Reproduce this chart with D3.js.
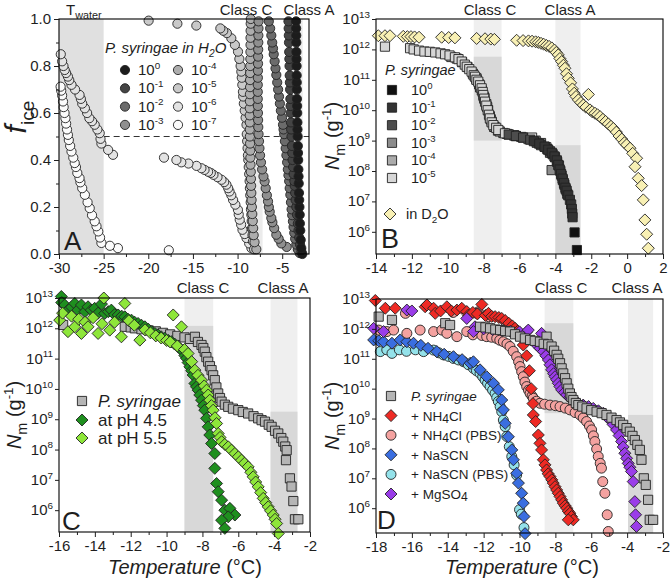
<!DOCTYPE html>
<html><head><meta charset="utf-8">
<script src="https://cdn.jsdelivr.net/npm/d3@7"></script>
<style>body{margin:0;background:#fff;}svg{display:block;font-family:"Liberation Sans",Arial,sans-serif;}</style>
</head><body>
<script>
// ---------------- DATA ----------------
// Panel A: [temperature °C, f_ice]
const A_e0 = [[-2.75,0.0],[-2.86,0.025],[-2.93,0.06],[-2.98,0.1],[-3.02,0.13],[-3.04,0.167],[-3.07,0.2],[-3.1,0.23],[-3.12,0.26],[-3.15,0.3],[-3.17,0.33],[-3.19,0.36],[-3.21,0.4],[-3.23,0.43],[-3.25,0.46],[-3.27,0.5],[-3.29,0.53],[-3.3,0.56],[-3.32,0.6],[-3.33,0.63],[-3.35,0.66],[-3.36,0.7],[-3.37,0.73],[-3.38,0.76],[-3.39,0.8],[-3.4,0.83],[-3.41,0.86],[-3.42,0.9],[-3.43,0.93],[-3.44,0.96],[-3.45,0.99]];
const A_e1 = [[-2.85,0.01],[-3.0,0.04],[-3.1,0.07],[-3.18,0.1],[-3.25,0.13],[-3.34,0.167],[-3.42,0.2],[-3.5,0.23],[-3.55,0.26],[-3.6,0.29],[-3.64,0.31],[-3.72,0.34],[-3.78,0.37],[-3.84,0.4],[-3.88,0.43],[-3.92,0.46],[-3.96,0.5],[-4.0,0.53],[-4.02,0.56],[-4.05,0.6],[-4.07,0.63],[-4.09,0.66],[-4.12,0.7],[-4.14,0.73],[-4.16,0.76],[-4.18,0.8],[-4.2,0.83],[-4.22,0.86],[-4.24,0.9],[-4.26,0.93],[-4.28,0.96],[-4.3,0.99]];
const A_e2 = [[-3.04,0.004],[-3.25,0.02],[-3.42,0.04],[-3.55,0.065],[-3.65,0.09],[-3.73,0.115],[-3.8,0.139],[-3.88,0.165],[-3.95,0.19],[-4.02,0.22],[-4.09,0.252],[-4.16,0.28],[-4.22,0.31],[-4.3,0.335],[-4.37,0.36],[-4.45,0.39],[-4.53,0.42],[-4.61,0.45],[-4.7,0.48],[-4.78,0.51],[-4.85,0.53],[-4.91,0.55],[-5.02,0.58],[-5.15,0.61],[-5.26,0.64],[-5.36,0.67],[-5.46,0.7],[-5.56,0.73],[-5.66,0.762],[-5.75,0.79],[-5.85,0.82],[-5.95,0.85],[-6.03,0.875],[-6.12,0.9],[-6.22,0.93],[-6.35,0.96],[-6.5,0.99]];
const A_e3 = [[-4.5,0.03],[-5.1,0.045],[-5.4,0.065],[-5.66,0.082],[-5.9,0.11],[-6.1,0.135],[-6.22,0.153],[-6.4,0.18],[-6.5,0.2],[-6.59,0.224],[-6.72,0.25],[-6.85,0.28],[-6.97,0.309],[-7.1,0.33],[-7.25,0.36],[-7.38,0.39],[-7.48,0.42],[-7.55,0.45],[-7.6,0.48],[-7.65,0.51],[-7.68,0.54],[-7.7,0.57],[-7.72,0.6],[-7.73,0.63],[-7.74,0.66],[-7.74,0.69],[-7.74,0.72],[-7.73,0.75],[-7.72,0.78],[-7.71,0.81],[-7.7,0.84],[-7.69,0.87],[-7.68,0.9],[-7.67,0.93],[-7.66,0.96],[-7.65,0.99]];
const A_e4 = [[-7.9,0.02],[-8.1,0.05],[-8.2,0.08],[-8.25,0.11],[-8.3,0.14],[-8.35,0.17],[-8.4,0.2],[-8.43,0.23],[-8.46,0.26],[-8.48,0.29],[-8.5,0.32],[-8.52,0.35],[-8.55,0.38],[-8.57,0.41],[-8.58,0.44],[-8.6,0.47],[-8.62,0.5],[-8.63,0.53],[-8.63,0.56],[-8.64,0.59],[-8.63,0.62],[-8.62,0.65],[-8.62,0.68],[-8.6,0.71],[-8.6,0.74],[-8.59,0.77],[-8.58,0.8],[-8.57,0.83],[-8.56,0.86],[-8.55,0.89],[-8.55,0.92],[-8.54,0.95],[-8.53,0.98],[-8.52,1.0]];
const A_e5 = [[-8.15,0.02],[-8.28,0.054],[-8.33,0.08],[-8.38,0.11],[-8.42,0.14],[-8.46,0.167],[-8.5,0.19],[-8.53,0.22],[-8.58,0.25],[-8.62,0.28],[-8.65,0.31],[-8.7,0.34],[-8.75,0.37],[-8.8,0.4],[-8.84,0.42],[-8.88,0.45],[-8.93,0.48],[-8.97,0.51],[-9.0,0.55],[-9.1,0.58],[-9.2,0.61],[-9.3,0.64],[-9.37,0.67],[-9.4,0.69],[-9.47,0.72],[-9.53,0.75],[-9.58,0.776],[-9.66,0.8],[-9.8,0.83],[-9.95,0.861],[-10.3,0.89],[-10.7,0.918],[-11.2,0.94],[-11.6,0.95],[-11.93,0.96],[-14.62,0.972],[-16.74,0.98],[-19.96,0.993]];
const A_e6 = [[-8.45,0.025],[-8.7,0.045],[-9.0,0.068],[-9.2,0.085],[-9.45,0.103],[-9.6,0.125],[-9.76,0.146],[-9.87,0.168],[-9.96,0.188],[-10.25,0.21],[-10.5,0.23],[-10.7,0.25],[-10.9,0.266],[-11.05,0.28],[-11.25,0.295],[-11.5,0.306],[-11.8,0.316],[-12.25,0.327],[-12.7,0.337],[-13.0,0.345],[-13.3,0.35],[-13.7,0.358],[-14.05,0.365],[-14.6,0.375],[-15.5,0.385],[-16.3,0.39],[-16.85,0.4],[-18.24,0.41],[-23.95,0.422],[-24.5,0.443],[-25.25,0.47],[-25.35,0.49],[-25.44,0.514],[-25.7,0.53],[-26.0,0.55],[-26.3,0.565],[-26.6,0.578],[-26.85,0.6],[-27.1,0.62],[-27.4,0.64],[-27.55,0.66],[-27.7,0.677],[-28.2,0.7],[-28.6,0.72],[-28.85,0.74],[-29.0,0.755],[-29.2,0.77],[-29.36,0.783],[-29.5,0.8],[-29.65,0.82],[-29.8,0.85]];
const A_e7 = [[-17.7,0.016],[-23.4,0.025],[-24.3,0.035],[-25.25,0.047],[-25.4,0.07],[-25.6,0.096],[-25.8,0.118],[-26.0,0.139],[-26.3,0.165],[-26.56,0.195],[-26.8,0.22],[-27.1,0.252],[-27.4,0.28],[-27.6,0.305],[-27.7,0.323],[-27.95,0.345],[-28.1,0.37],[-28.24,0.387],[-28.4,0.41],[-28.6,0.436],[-28.75,0.46],[-28.9,0.485],[-29.0,0.507],[-29.1,0.53],[-29.2,0.555],[-29.28,0.578],[-29.38,0.6],[-29.48,0.625],[-29.55,0.649],[-29.65,0.675],[-29.75,0.695],[-29.82,0.712]];

// Panel B: [temperature °C, log10 Nm]
const B_e0 = [[-2.93,5.98],[-2.8,5.4]];
const B_e1 = [[-5.2,8.98],[-4.9,8.9],[-4.6,8.8],[-4.4,8.7],[-4.2,8.6],[-4.05,8.48],[-3.92,8.35],[-3.84,8.2],[-3.76,8.05],[-3.68,7.9],[-3.6,7.75],[-3.52,7.6],[-3.44,7.45],[-3.37,7.35],[-3.28,7.2],[-3.19,7.05],[-3.12,6.9],[-3.08,6.75],[-3.06,6.6],[-3.04,6.48]];
const B_e2 = [[-6.6,9.2],[-6.2,9.15],[-5.8,9.1],[-5.4,9.03],[-5.04,8.93],[-4.8,8.85],[-4.6,8.8],[-4.45,8.72],[-4.3,8.65],[-4.15,8.55],[-4.02,8.45],[-3.9,8.3],[-3.8,8.18],[-3.72,8.0],[-3.65,7.85],[-3.58,7.7],[-3.5,7.55],[-3.42,7.4],[-3.34,7.25]];
const B_e3 = [[-8.4,11.05],[-8.2,10.75],[-8.0,10.45],[-7.8,10.1],[-7.6,9.7],[-7.4,9.45],[-7.1,9.3],[-6.7,9.22],[-6.3,9.17],[-5.9,9.12],[-5.5,9.05],[-5.1,9.0],[-4.8,8.92],[-4.5,8.78],[-4.3,8.6],[-4.21,8.03]];
const B_e4 = [[-9.8,11.75],[-9.5,11.7],[-9.2,11.58],[-8.9,11.42],[-8.6,11.2],[-8.4,11.02],[-8.25,10.85],[-8.1,10.65],[-7.95,10.4],[-7.85,10.2],[-7.75,10.0],[-7.65,9.8],[-7.55,9.62],[-7.4,9.45],[-7.2,9.33],[-6.9,9.25],[-6.6,9.2],[-6.2,9.15],[-5.8,9.1]];
const B_e5 = [[-13.5,12.09],[-12.1,12.04],[-11.9,12.0],[-11.6,11.96],[-11.3,11.93],[-11.0,11.92],[-10.7,11.9],[-10.4,11.87],[-10.15,11.84],[-9.9,11.8],[-9.6,11.74],[-9.4,11.68],[-9.22,11.6],[-9.05,11.5],[-8.94,11.43],[-8.8,11.35],[-8.67,11.27],[-8.55,11.15],[-8.48,11.1],[-8.4,11.0],[-8.3,10.94],[-8.2,10.82],[-8.11,10.72],[-8.05,10.6],[-8.02,10.5],[-7.97,10.38],[-7.92,10.28],[-7.85,10.15],[-7.77,10.0],[-7.7,9.85],[-7.65,9.73],[-7.55,9.6],[-7.46,9.51],[-7.3,9.42],[-7.18,9.35],[-6.81,9.24],[-6.3,9.18],[-5.3,9.1]];
const B_D2O = [[-13.87,12.45],[-13.5,12.45],[-13.22,12.45],[-12.48,12.43],[-12.25,12.42],[-12.05,12.42],[-11.85,12.41],[-11.6,12.4],[-10.34,12.4],[-9.95,12.39],[-9.6,12.38],[-8.39,12.36],[-7.92,12.35],[-7.6,12.34],[-7.4,12.33],[-6.16,12.3],[-5.8,12.29],[-5.5,12.28],[-5.3,12.27],[-5.1,12.25],[-4.95,12.23],[-4.8,12.2],[-4.65,12.17],[-4.5,12.13],[-4.35,12.1],[-4.2,12.05],[-4.05,11.98],[-3.95,11.9],[-3.84,11.82],[-3.75,11.7],[-3.65,11.6],[-3.55,11.48],[-3.47,11.38],[-3.38,11.2],[-3.28,11.05],[-3.15,10.9],[-3.05,10.7],[-2.95,10.56],[-2.85,10.45],[-2.72,10.34],[-2.58,10.25],[-2.44,10.17],[-2.3,10.1],[-2.16,10.52],[-2.07,10.01],[-1.95,9.95],[-1.79,9.9],[-1.65,9.85],[-1.51,9.79],[-1.35,9.7],[-1.2,9.63],[-1.05,9.55],[-0.9,9.47],[-0.77,9.4],[-0.6,9.28],[-0.45,9.15],[-0.3,9.05],[-0.15,8.93],[-0.03,8.86],[0.16,8.75],[0.31,8.58],[0.53,8.42],[0.44,8.14],[0.62,7.76],[0.81,7.52],[0.9,7.05],[0.99,6.39],[1.09,5.92],[1.18,5.46]];

// Panel C: [temperature °C, log10 Nm]
const C_ps = [[-15.77,12.11],[-12.33,12.05],[-12.0,12.03],[-11.77,12.0],[-11.4,11.97],[-11.0,11.93],[-10.6,11.9],[-10.2,11.85],[-9.8,11.8],[-9.4,11.75],[-9.0,11.7],[-8.7,11.65],[-8.42,11.72],[-8.25,11.55],[-8.05,11.45],[-7.95,11.35],[-7.87,11.23],[-7.78,11.05],[-7.68,10.9],[-7.58,10.75],[-7.49,10.62],[-7.4,10.45],[-7.31,10.29],[-7.22,10.05],[-7.12,9.85],[-7.02,9.7],[-6.93,9.58],[-6.75,9.48],[-6.56,9.41],[-6.3,9.35],[-6.0,9.3],[-5.75,9.24],[-5.45,9.19],[-5.15,9.1],[-4.89,9.03],[-4.7,8.97],[-4.51,8.92],[-4.3,8.82],[-4.14,8.75],[-3.95,8.62],[-3.77,8.53],[-3.6,8.38],[-3.49,8.26],[-3.38,8.1],[-3.3,7.98],[-3.34,7.65],[-3.12,7.05],[-3.03,6.78],[-2.93,6.3],[-2.84,5.7],[-2.65,5.7]];
const C_pH45 = [[-15.87,13.05],[-15.85,12.85],[-15.68,12.77],[-15.5,12.6],[-15.3,12.7],[-15.12,12.82],[-14.95,12.6],[-14.75,12.77],[-14.55,12.55],[-14.38,12.71],[-14.2,12.6],[-14.01,12.66],[-13.82,12.5],[-13.63,12.8],[-13.45,12.49],[-13.25,12.55],[-13.08,12.6],[-12.9,12.45],[-12.7,12.44],[-12.5,12.4],[-12.33,12.38],[-12.15,12.3],[-11.96,12.27],[-11.78,12.2],[-11.59,12.16],[-11.4,12.1],[-11.21,12.05],[-11.02,11.97],[-10.84,11.89],[-10.65,11.83],[-10.47,11.78],[-10.3,11.72],[-10.1,11.67],[-9.9,11.6],[-9.73,11.56],[-9.55,11.48],[-9.35,11.39],[-9.2,11.3],[-9.07,11.23],[-8.98,11.1],[-8.89,11.01],[-8.8,10.87],[-8.7,10.73],[-8.6,10.6],[-8.52,10.46],[-8.42,10.18],[-8.33,10.07],[-8.24,9.96],[-8.15,9.8],[-8.05,9.63],[-7.95,9.45],[-7.87,9.3],[-7.77,9.03],[-7.68,8.75],[-7.59,8.48],[-7.49,8.2],[-7.31,7.87],[-7.31,7.38],[-7.21,6.88],[-7.12,6.61],[-6.93,6.33],[-6.75,6.0],[-6.47,6.06],[-6.19,5.84],[-6.56,5.78],[-6.93,5.67],[-6.75,5.4]];
const C_pH55 = [[-15.96,12.27],[-15.8,12.5],[-15.5,11.89],[-15.3,12.4],[-15.12,12.05],[-14.9,12.3],[-14.75,11.83],[-14.55,12.2],[-14.38,12.05],[-14.1,12.35],[-13.82,11.83],[-13.6,12.15],[-13.5,13.0],[-13.17,11.94],[-12.9,12.2],[-12.52,11.72],[-12.33,12.82],[-12.1,12.25],[-11.8,12.1],[-11.49,11.61],[-11.2,11.95],[-10.9,11.85],[-10.6,11.75],[-10.3,11.68],[-10.0,11.6],[-9.8,11.55],[-9.63,12.44],[-9.4,11.42],[-9.17,12.05],[-9.0,11.3],[-8.8,11.17],[-8.6,10.9],[-8.42,10.62],[-8.25,10.45],[-8.05,10.29],[-7.9,10.1],[-7.77,9.96],[-7.68,9.8],[-7.59,9.63],[-7.5,9.45],[-7.4,9.3],[-7.3,9.05],[-7.21,8.86],[-7.12,8.53],[-7.02,8.4],[-6.93,8.26],[-6.75,8.17],[-6.56,8.09],[-6.38,7.98],[-6.19,7.87],[-6.0,7.76],[-5.82,7.65],[-5.65,7.55],[-5.45,7.43],[-5.3,7.25],[-5.17,7.1],[-5.03,6.93],[-4.89,6.77],[-4.75,6.58],[-4.61,6.39],[-4.47,6.25],[-4.33,6.11],[-4.2,5.98],[-4.05,5.84],[-3.95,5.7],[-3.86,5.56],[-3.77,5.23]];

// Panel D: [temperature °C, log10 Nm]
const D_ps = [[-17.85,12.41],[-17.11,12.3],[-14.14,12.19],[-13.87,12.13],[-12.2,12.07],[-11.9,12.05],[-11.64,12.02],[-11.35,11.98],[-11.08,11.96],[-10.8,11.93],[-10.53,11.91],[-10.25,11.82],[-9.97,11.74],[-9.7,11.68],[-9.41,11.63],[-9.15,11.6],[-8.86,11.57],[-8.49,11.74],[-8.65,11.5],[-8.4,11.48],[-8.21,11.41],[-8.07,11.27],[-7.93,11.13],[-7.84,11.0],[-7.74,10.85],[-7.65,10.68],[-7.56,10.51],[-7.46,10.35],[-7.37,10.18],[-7.28,10.0],[-7.19,9.84],[-7.1,9.72],[-7.0,9.62],[-6.86,9.52],[-6.72,9.45],[-6.5,9.4],[-6.26,9.34],[-6.0,9.28],[-5.7,9.23],[-5.42,9.18],[-5.15,9.12],[-4.87,9.03],[-4.59,8.95],[-4.4,8.87],[-4.22,8.79],[-4.03,8.68],[-3.85,8.56],[-3.7,8.42],[-3.57,8.28],[-3.43,8.12],[-3.29,7.95],[-3.2,7.62],[-3.07,7.0],[-2.96,6.78],[-2.83,6.28],[-2.74,5.61],[-2.55,5.61]];
const D_NH4Cl = [[-18.04,12.95],[-17.48,12.69],[-16.93,12.69],[-15.26,12.74],[-15.16,12.8],[-14.79,12.69],[-14.7,12.52],[-14.4,12.6],[-14.05,12.74],[-13.8,12.6],[-13.49,12.63],[-13.22,12.69],[-12.94,12.58],[-12.85,12.46],[-12.6,12.55],[-12.35,12.5],[-12.1,12.82],[-11.9,12.45],[-11.73,12.52],[-11.55,12.42],[-11.36,12.41],[-11.15,12.38],[-10.99,12.35],[-10.8,12.28],[-10.6,12.19],[-10.4,12.1],[-10.25,12.02],[-10.1,11.92],[-9.79,11.46],[-9.6,11.1],[-9.45,10.6],[-9.35,10.0],[-9.25,9.5],[-9.23,9.12],[-9.1,8.9],[-8.95,8.45],[-8.86,8.17],[-8.77,7.95],[-8.67,7.62],[-8.58,7.45],[-8.49,7.28],[-8.4,7.15],[-8.3,7.06],[-8.2,6.95],[-8.12,6.84],[-8.02,6.72],[-7.93,6.61],[-7.84,6.5],[-7.74,6.39],[-7.65,6.28],[-7.56,6.17],[-7.46,6.08],[-7.37,6.0],[-7.28,5.9],[-7.19,5.83],[-7.1,5.72],[-7.0,5.61],[-7.28,5.61]];
const D_NH4ClPBS = [[-17.85,11.96],[-17.39,11.91],[-17.02,11.96],[-16.36,12.52],[-16.28,11.85],[-15.54,11.96],[-14.79,11.91],[-14.33,11.96],[-14.05,11.85],[-13.7,12.55],[-13.49,11.74],[-12.94,11.91],[-12.3,12.57],[-12.6,11.8],[-12.38,12.52],[-12.1,11.78],[-11.83,11.74],[-11.73,12.41],[-11.55,11.72],[-11.27,11.68],[-11.1,11.62],[-10.9,11.57],[-10.7,11.5],[-10.53,11.41],[-10.35,11.25],[-10.16,11.07],[-10.05,10.9],[-9.97,10.74],[-9.88,10.57],[-9.79,10.4],[-9.7,10.22],[-9.6,10.07],[-9.5,9.95],[-9.41,9.84],[-9.3,9.75],[-9.23,9.68],[-9.05,9.58],[-8.86,9.51],[-8.6,9.48],[-8.3,9.45],[-8.0,9.43],[-7.74,9.4],[-7.45,9.35],[-7.19,9.29],[-6.9,9.2],[-6.63,9.12],[-6.45,9.02],[-6.26,8.9],[-6.1,8.75],[-5.98,8.62],[-5.88,8.42],[-5.8,8.23],[-5.7,7.98],[-5.61,7.73],[-5.5,7.5],[-5.43,7.34],[-5.36,6.89],[-5.24,6.5],[-5.11,5.78],[-5.05,5.22]];
const D_NaSCN = [[-18.13,11.63],[-17.85,11.6],[-17.58,11.57],[-17.11,11.52],[-16.65,11.63],[-16.28,11.57],[-15.91,11.52],[-15.5,11.45],[-15.1,11.35],[-14.61,11.24],[-14.2,11.15],[-13.68,11.07],[-13.2,10.97],[-12.75,10.85],[-12.57,10.9],[-12.2,10.63],[-11.83,10.4],[-11.45,10.18],[-11.18,9.96],[-10.99,9.62],[-10.9,9.29],[-10.8,8.84],[-10.62,8.39],[-10.43,7.95],[-10.34,7.62],[-10.16,7.17],[-10.06,6.84],[-9.88,6.5],[-9.79,6.17],[-9.75,5.72],[-9.69,5.15]];
const D_NaSCNPBS = [[-17.76,11.24],[-17.4,11.3],[-17.11,11.18],[-16.7,11.3],[-16.3,11.25],[-15.8,11.3],[-15.35,11.24],[-14.79,11.29],[-14.5,11.2],[-14.24,11.13],[-13.95,11.08],[-13.68,11.01],[-13.4,10.96],[-13.12,10.9],[-12.85,10.8],[-12.57,10.68],[-12.4,10.6],[-12.2,10.51],[-12.05,10.4],[-11.92,10.29],[-11.78,10.18],[-11.64,10.07],[-11.5,9.95],[-11.36,9.84],[-11.27,9.7],[-11.18,9.57],[-11.08,9.4],[-10.99,9.23],[-10.9,8.95],[-10.8,8.73],[-10.71,8.4],[-10.57,8.06],[-10.43,7.73],[-10.3,7.45],[-10.16,7.11],[-10.0,5.95],[-9.9,5.8],[-9.75,5.35]];
const D_MgSO4 = [[-18.13,12.02],[-17.58,11.91],[-16.28,12.63],[-16.0,12.6],[-12.94,12.35],[-12.48,12.07],[-12.57,11.91],[-12.0,12.0],[-11.5,11.98],[-11.0,11.95],[-10.5,11.92],[-10.0,11.9],[-9.6,11.9],[-9.51,11.96],[-8.77,11.85],[-9.04,11.46],[-8.85,11.35],[-8.67,11.24],[-8.53,11.1],[-8.39,10.96],[-8.3,10.8],[-8.21,10.63],[-8.1,10.5],[-8.02,10.4],[-7.93,10.3],[-7.84,10.18],[-7.75,10.07],[-7.65,9.96],[-7.5,9.87],[-7.37,9.79],[-7.2,9.7],[-7.0,9.62],[-6.75,9.52],[-6.45,9.45],[-6.15,9.4],[-5.89,9.34],[-5.6,9.26],[-5.33,9.18],[-5.15,9.08],[-4.96,8.95],[-4.78,8.8],[-4.59,8.62],[-4.45,8.43],[-4.31,8.23],[-4.22,8.05],[-4.13,7.84],[-4.03,7.67],[-3.94,7.5],[-3.85,7.37],[-3.76,7.23],[-3.66,6.89],[-3.57,6.22],[-3.53,5.78],[-3.48,5.39]];

// tick values
const A_xticks = [-30,-25,-20,-15,-10,-5];
const A_yticks = [0,0.2,0.4,0.6,0.8,1.0];
const B_xticks = [-14,-12,-10,-8,-6,-4,-2,0,2];
const C_xticks = [-16,-14,-12,-10,-8,-6,-4,-2];
const D_xticks = [-18,-16,-14,-12,-10,-8,-6,-4,-2];
const logTicks = [1e6,1e7,1e8,1e9,1e10,1e11,1e12,1e13];
const dilA = ["0","-1","-2","-3","-4","-5","-6","-7"];
const dilB = ["0","-1","-2","-3","-4","-5"];
// class regions [Tmin, Tmax] and [log10 lower, log10 upper]
const A_bands = {water:[-30,-25], C:[-8.6,-7.2], A:[-4.0,-2.7]};
const B_bands = {C:[-8.55,-7.0], Cy:[9,11.76], A:[-4.0,-2.6], Ay:[5,8.85]};
const C_bands = {C:[-9.0,-7.4], Cy:[5,12.08], A:[-4.2,-2.7], Ay:[5,9.25]};
const D_bands = {C:[-8.6,-7.0], Cy:[9.18,12.19], A:[-3.95,-2.55], Ay:[5,9.12]};

// ---------------- DRAW ----------------
const svg = d3.select("body").append("svg").attr("width",671).attr("height",580);
const TXT = "#1e1e1e";

function rich(parent, x, y, size, parts, anchor, transform){
  const t = parent.append("text").attr("x",x).attr("y",y).attr("font-size",size).attr("fill",TXT);
  if(anchor) t.attr("text-anchor",anchor);
  if(transform) t.attr("transform",transform);
  let cur = 0;
  parts.forEach(p=>{
    if(typeof p === "string") p = {t:p};
    const off = p.sub ? size*(p.drop||0.28) : p.sup ? -size*0.42 : 0;
    const ts = t.append("tspan").text(p.t).attr("dy", off-cur);
    cur = off;
    if(p.sub||p.sup) ts.attr("font-size", size*(p.scale||0.68));
    if(p.i) ts.attr("font-style","italic");
  });
  return t;
}
function shapePath(shape,s){
  if(shape==="circle") return d3.symbol(d3.symbolCircle, Math.PI*s*s)();
  if(shape==="square") return `M${-s},${-s}H${s}V${s}H${-s}Z`;
  return `M0,${-s}L${s},0L0,${s}L${-s},0Z`;
}
function pts(g, data, xs, ys, shape, fill, s, isLog){
  g.append("g").selectAll("path").data(data).join("path")
    .attr("transform", d=>`translate(${xs(d[0])},${ys(isLog?Math.pow(10,d[1]):d[1])})`)
    .attr("d", shapePath(shape,s))
    .attr("fill", fill).attr("stroke","#222").attr("stroke-width",0.9);
}
function marker(g, x, y, shape, fill, s){
  g.append("path").attr("transform",`translate(${x},${y})`).attr("d",shapePath(shape,s))
   .attr("fill",fill).attr("stroke","#222").attr("stroke-width",0.9);
}
function frame(g,x,y){
  const [a,b]=x.range(), [c,d]=y.range();
  g.append("rect").attr("x",a).attr("y",d).attr("width",b-a).attr("height",c-d)
   .attr("fill","none").attr("stroke","#000").attr("stroke-width",1.1);
}
function xAxis(g, x, y, ticks, minor){
  const y0 = y.range()[0];
  const ax = g.append("g").attr("transform",`translate(0,${y0})`).style("color",TXT)
    .call(d3.axisBottom(x).tickValues(ticks).tickSize(5).tickPadding(3).tickFormat(d=>String(d)));
  ax.select(".domain").remove();
  ax.selectAll("text").attr("font-size",15).attr("font-family","Liberation Sans, Arial, sans-serif");
  const mi = g.append("g").attr("transform",`translate(0,${y0})`).style("color",TXT)
    .call(d3.axisBottom(x).tickValues(minor).tickSize(3).tickFormat(""));
  mi.select(".domain").remove();
}
function yAxisLin(g, x, y, ticks, minor){
  const x0 = x.range()[0];
  const ax = g.append("g").attr("transform",`translate(${x0},0)`).style("color",TXT)
    .call(d3.axisLeft(y).tickValues(ticks).tickSize(5).tickPadding(3).tickFormat(d3.format(".1f")));
  ax.select(".domain").remove();
  ax.selectAll("text").attr("font-size",15).attr("font-family","Liberation Sans, Arial, sans-serif");
  const mi = g.append("g").attr("transform",`translate(${x0},0)`).style("color",TXT)
    .call(d3.axisLeft(y).tickValues(minor).tickSize(3).tickFormat(""));
  mi.select(".domain").remove();
}
function yAxisLog(g, x, y){
  const x0 = x.range()[0];
  const ax = g.append("g").attr("transform",`translate(${x0},0)`).style("color",TXT)
    .call(d3.axisLeft(y).tickValues(logTicks).tickSize(4).tickPadding(4).tickFormat(""));
  ax.select(".domain").remove();
  logTicks.forEach(v=>{
    rich(g, x0-6, y(v)+5, 15, ["10",{t:String(Math.round(Math.log10(v))),sup:true,scale:0.66}], "end");
  });
}
function nmLabel(g, x, y){
  rich(g, 0, 0, 20, [{t:"N",i:true},{t:"m",sub:true,scale:0.72}," (g",{t:"-1",sup:true,scale:0.66},")"], "middle",
       `translate(${x},${y}) rotate(-90)`);
}
function tLabel(g, x, y){
  rich(g, x, y, 20, [{t:"Temperature",i:true}," (°C)"], "middle");
}
function classLabels(g, xc, xa, y){
  g.append("text").attr("x",xc).attr("y",y).attr("text-anchor","middle").attr("font-size",15).attr("fill",TXT).text("Class C");
  g.append("text").attr("x",xa).attr("y",y).attr("text-anchor","middle").attr("font-size",15).attr("fill",TXT).text("Class A");
}
function band(g, x, y, t0, t1, v0, v1, fill, isLog){
  const f = v=> isLog ? y(Math.pow(10,v)) : y(v);
  const ya = v0==null ? y.range()[0] : Math.min(f(v0), y.range()[0]);
  const yb = v1==null ? y.range()[1] : Math.max(f(v1), y.range()[1]);
  g.append("rect").attr("x",x(t0)).attr("width",x(t1)-x(t0)).attr("y",yb).attr("height",ya-yb).attr("fill",fill);
}
const LIGHT="#efefef", DARK="#d8d8d8";

// ===== Panel A =====
{
  const g = svg.append("g");
  const x = d3.scaleLinear().domain([-30,-2]).range([59,309]);
  const y = d3.scaleLinear().domain([0,1]).range([254,19]);
  band(g,x,y,A_bands.water[0],A_bands.water[1],null,null,"#e0e0e0");
  band(g,x,y,A_bands.C[0],A_bands.C[1],null,null,"#ebebeb");
  band(g,x,y,A_bands.A[0],A_bands.A[1],null,null,"#ebebeb");
  g.append("line").attr("x1",x(-25)).attr("x2",x(-2)).attr("y1",y(0.5)).attr("y2",y(0.5))
    .attr("stroke","#333").attr("stroke-width",1.2).attr("stroke-dasharray","6,4");
  const ser = [[A_e7,"#fbfbfb"],[A_e6,"#e3e3e3"],[A_e5,"#c9c9c9"],[A_e4,"#adadad"],[A_e3,"#8f8f8f"],[A_e2,"#6b6b6b"],[A_e1,"#444444"],[A_e0,"#1c1c1c"]];
  ser.forEach(([d,c])=>pts(g,d,x,y,"circle",c,4.6,false));
  frame(g,x,y);
  xAxis(g,x,y,A_xticks,[-27.5,-22.5,-17.5,-12.5,-7.5,-2.5]);
  yAxisLin(g,x,y,A_yticks,[0.1,0.3,0.5,0.7,0.9]);
  rich(g,0,0,30,[{t:"f",i:true},{t:"ice",sub:true,scale:0.64}],"middle","translate(26,117) rotate(-90)");
  rich(g,66,15,15,["T",{t:"water",sub:true,scale:0.72}]);
  classLabels(g,246,309,15);
  g.append("text").attr("x",64).attr("y",250).attr("font-size",26).attr("fill",TXT).text("A");
  // legend
  rich(g,105,53,15,[{t:"P. syringae in H",i:true},{t:"2",sub:true,i:true},{t:"O",i:true}]);
  const cols = ["#1c1c1c","#444444","#6b6b6b","#8f8f8f","#adadad","#c9c9c9","#e3e3e3","#fbfbfb"];
  dilA.forEach((e,i)=>{
    const cx = i<4 ? 125 : 178, cy = 70 + (i%4)*18.3;
    marker(g,cx,cy,"circle",cols[i],4.6);
    rich(g,cx+13,cy+5,15,["10",{t:e,sup:true,scale:0.66}]);
  });
}
// ===== Panel B =====
{
  const g = svg.append("g");
  const x = d3.scaleLinear().domain([-14,2]).range([376,663]);
  const y = d3.scaleLog().domain([Math.pow(10,5.27),1e13]).range([254,19]);
  band(g,x,y,B_bands.C[0],B_bands.C[1],null,null,LIGHT,true);
  band(g,x,y,B_bands.C[0],B_bands.C[1],B_bands.Cy[0],B_bands.Cy[1],DARK,true);
  band(g,x,y,B_bands.A[0],B_bands.A[1],null,null,LIGHT,true);
  band(g,x,y,B_bands.A[0],B_bands.A[1],null,B_bands.Ay[1],DARK,true);
  const sq = [[B_e4,"#ababab"],[B_e3,"#8c8c8c"],[B_e5,"#d6d6d6"],[B_e2,"#4d4d4d"],[B_e1,"#333333"],[B_e0,"#111111"]];
  sq.forEach(([d,c])=>pts(g,d,x,y,"square",c,4.6,true));
  pts(g,B_D2O,x,y,"diamond","#f8f0b4",6,true);
  frame(g,x,y);
  xAxis(g,x,y,B_xticks,[-13,-11,-9,-7,-5,-3,-1,1]);
  yAxisLog(g,x,y);
  nmLabel(g,339,136);
  classLabels(g,490,570,15);
  g.append("text").attr("x",381).attr("y",248).attr("font-size",27).attr("fill",TXT).text("B");
  rich(g,385,75,14.5,[{t:"P. syringae",i:true}]);
  const cols = ["#111111","#333333","#4d4d4d","#8c8c8c","#ababab","#d6d6d6"];
  dilB.forEach((e,i)=>{
    const cy = 90 + i*17.6;
    marker(g,392,cy,"square",cols[i],4.6);
    rich(g,411,cy+5,14.5,["10",{t:e,sup:true,scale:0.66}]);
  });
  marker(g,390,214,"diamond","#f8f0b4",6);
  rich(g,406,219,14.5,["in D",{t:"2",sub:true},"O"]);
}
// ===== Panel C =====
{
  const g = svg.append("g");
  const x = d3.scaleLinear().domain([-16,-2]).range([59,310]);
  const y = d3.scaleLog().domain([Math.pow(10,5.28),1e13]).range([532,298]);
  band(g,x,y,C_bands.C[0],C_bands.C[1],null,null,LIGHT,true);
  band(g,x,y,C_bands.C[0],C_bands.C[1],null,C_bands.Cy[1],DARK,true);
  band(g,x,y,C_bands.A[0],C_bands.A[1],null,null,LIGHT,true);
  band(g,x,y,C_bands.A[0],C_bands.A[1],null,C_bands.Ay[1],DARK,true);
  pts(g,C_ps,x,y,"square","#b5b5b5",4.6,true);
  pts(g,C_pH45,x,y,"diamond","#1f8f1f",6,true);
  pts(g,C_pH55,x,y,"diamond","#8ee63a",6,true);
  frame(g,x,y);
  xAxis(g,x,y,C_xticks,[-15,-13,-11,-9,-7,-5,-3]);
  yAxisLog(g,x,y);
  nmLabel(g,21,415);
  tLabel(g,185,574);
  classLabels(g,203,283,293);
  g.append("text").attr("x",62).attr("y",530).attr("font-size",26).attr("fill",TXT).text("C");
  marker(g,82,401,"square","#b5b5b5",4.6);
  rich(g,98,407,17,[{t:"P. syringae",i:true}]);
  marker(g,82,420,"diamond","#1f8f1f",6);
  rich(g,98,426,17,["at pH 4.5"]);
  marker(g,82,438,"diamond","#8ee63a",6);
  rich(g,98,444,17,["at pH 5.5"]);
}
// ===== Panel D =====
{
  const g = svg.append("g");
  const x = d3.scaleLinear().domain([-18,-2]).range([376,663]);
  const y = d3.scaleLog().domain([Math.pow(10,5.17),1e13]).range([533,299]);
  band(g,x,y,D_bands.C[0],D_bands.C[1],null,null,LIGHT,true);
  band(g,x,y,D_bands.C[0],D_bands.C[1],D_bands.Cy[0],D_bands.Cy[1],DARK,true);
  band(g,x,y,D_bands.A[0],D_bands.A[1],null,null,LIGHT,true);
  band(g,x,y,D_bands.A[0],D_bands.A[1],null,D_bands.Ay[1],DARK,true);
  pts(g,D_NaSCNPBS,x,y,"circle","#94e2ea",5,true);
  pts(g,D_NaSCN,x,y,"diamond","#3a6ee0",6,true);
  pts(g,D_NH4ClPBS,x,y,"circle","#f4a2a0",5,true);
  pts(g,D_NH4Cl,x,y,"diamond","#ee2a24",6,true);
  pts(g,D_MgSO4,x,y,"diamond","#9a3de8",6,true);
  pts(g,D_ps,x,y,"square","#b5b5b5",4.6,true);
  frame(g,x,y);
  xAxis(g,x,y,D_xticks,[-17,-15,-13,-11,-9,-7,-5,-3]);
  yAxisLog(g,x,y);
  nmLabel(g,339,416);
  tLabel(g,522,574);
  classLabels(g,561,637,293);
  g.append("text").attr("x",377).attr("y",529).attr("font-size",26).attr("fill",TXT).text("D");
  const leg = [["square","#b5b5b5",[{t:"P. syringae",i:true}]],
    ["diamond","#ee2a24",["+ NH",{t:"4",sub:true,scale:0.9,drop:0.15},"Cl"]],
    ["circle","#f4a2a0",["+ NH",{t:"4",sub:true,scale:0.9,drop:0.15},"Cl (PBS)"]],
    ["diamond","#3a6ee0",["+ NaSCN"]],
    ["circle","#94e2ea",["+ NaSCN (PBS)"]],
    ["diamond","#9a3de8",["+ MgSO",{t:"4",sub:true,scale:0.9,drop:0.15}]]];
  leg.forEach(([s,c,parts],i)=>{
    const cy = 396 + i*19.6;
    marker(g,391,cy,s,c,s==="square"?4.6:s==="circle"?5:6);
    rich(g,411,cy+5,13.5,parts);
  });
}
</script>
</body></html>
